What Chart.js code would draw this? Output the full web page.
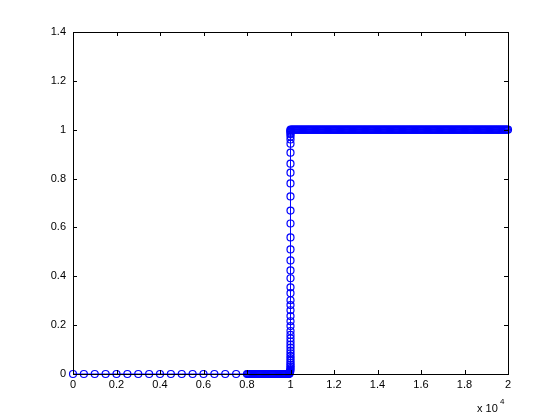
<!DOCTYPE html>
<html>
<head>
<meta charset="utf-8">
<script src="https://cdn.jsdelivr.net/npm/chart.js@4.4.1/dist/chart.umd.min.js"></script>
<style>
  body { margin: 0; background: #fff; }
  canvas { display: block; }
</style>
</head>
<body>
<canvas id="chart" width="560" height="420"></canvas>
<script>
// Chart values
const xTickLabels = ['0', '0.2', '0.4', '0.6', '0.8', '1', '1.2', '1.4', '1.6', '1.8', '2'];
const yTickLabels = ['0', '0.2', '0.4', '0.6', '0.8', '1', '1.2', '1.4'];

const lowLevel = 0;
const highLevel = 1;

// coarse points on the low plateau
const flatX = [0, 500, 1000, 1500, 2000, 2500, 3000, 3500, 4000, 4500, 5000, 5500, 6000, 6500, 7000, 7500];

// refined points before the jump
const lowX = [8000, 8050, 8100, 8150, 8200, 8250, 8300, 8350, 8400, 8450,
    8500, 8550, 8600, 8650, 8700, 8750, 8800, 8850, 8900, 8950,
    9000, 9050, 9100, 9150, 9200, 9250, 9300, 9350, 9400, 9450,
    9500, 9550, 9600, 9650, 9700, 9750, 9800, 9850, 9900];

// the jump itself
const riseX = [9930, 9950, 9965, 9975, 9985, 9990, 9995, 10000, 10000, 10000,
    10000, 10000, 10000, 10000, 10000, 10000, 10000, 10000, 10000, 10000,
    10000, 10000, 10000, 10000, 10000, 10000, 10000, 10000, 10000, 10000,
    10000, 10000, 10000, 10000, 10000, 10000, 10000, 10000, 10000, 10000,
    10000, 10000, 10000, 10000, 10000, 10000, 10000, 10000, 10000, 10000];
const riseY = [0.000, 0.002, 0.004, 0.006, 0.009, 0.013, 0.018, 0.024, 0.031, 0.038,
    0.046, 0.055, 0.064, 0.074, 0.085, 0.096, 0.108, 0.120, 0.133, 0.146,
    0.160, 0.176, 0.196, 0.216, 0.237, 0.261, 0.282, 0.302, 0.331, 0.355,
    0.392, 0.424, 0.465, 0.510, 0.559, 0.616, 0.669, 0.727, 0.780, 0.824,
    0.861, 0.906, 0.943, 0.960, 0.972, 0.981, 0.988, 0.993, 0.997, 1.000];

// refined points on the high plateau
const topX = [
    10050, 10100, 10150, 10200, 10250, 10300, 10350, 10400, 10450, 10500,
    10550, 10600, 10650, 10700, 10750, 10800, 10850, 10900, 10950, 11000,
    11050, 11100, 11150, 11200, 11250, 11300, 11350, 11400, 11450, 11500,
    11550, 11600, 11650, 11700, 11750, 11800, 11850, 11900, 11950, 12000,
    12050, 12100, 12150, 12200, 12250, 12300, 12350, 12400, 12450, 12500,
    12550, 12600, 12650, 12700, 12750, 12800, 12850, 12900, 12950, 13000,
    13050, 13100, 13150, 13200, 13250, 13300, 13350, 13400, 13450, 13500,
    13550, 13600, 13650, 13700, 13750, 13800, 13850, 13900, 13950, 14000,
    14050, 14100, 14150, 14200, 14250, 14300, 14350, 14400, 14450, 14500,
    14550, 14600, 14650, 14700, 14750, 14800, 14850, 14900, 14950, 15000,
    15050, 15100, 15150, 15200, 15250, 15300, 15350, 15400, 15450, 15500,
    15550, 15600, 15650, 15700, 15750, 15800, 15850, 15900, 15950, 16000,
    16050, 16100, 16150, 16200, 16250, 16300, 16350, 16400, 16450, 16500,
    16550, 16600, 16650, 16700, 16750, 16800, 16850, 16900, 16950, 17000,
    17050, 17100, 17150, 17200, 17250, 17300, 17350, 17400, 17450, 17500,
    17550, 17600, 17650, 17700, 17750, 17800, 17850, 17900, 17950, 18000,
    18050, 18100, 18150, 18200, 18250, 18300, 18350, 18400, 18450, 18500,
    18550, 18600, 18650, 18700, 18750, 18800, 18850, 18900, 18950, 19000,
    19050, 19100, 19150, 19200, 19250, 19300, 19350, 19400, 19450, 19500,
    19550, 19600, 19650, 19700, 19750, 19800, 19850, 19900, 19950, 20000];

const points = [
    ...flatX.map(x => ({ x, y: lowLevel })),
    ...lowX.map(x => ({ x, y: lowLevel })),
    ...riseX.map((x, i) => ({ x, y: riseY[i] })),
    ...topX.map(x => ({ x, y: highLevel }))
];

const FONT = { family: 'Liberation Sans, Arial, Helvetica, sans-serif', size: 11 };

// Matlab style box with inward ticks, drawn on top of the data
const boxAxes = {
    id: 'boxAxes',
    afterDatasetsDraw(chart) {
        const { ctx, chartArea: a, scales: { x, y } } = chart;
        ctx.save();
        ctx.strokeStyle = '#000';
        ctx.lineWidth = 1;
        ctx.strokeRect(a.left + 0.5, a.top + 0.5, a.right - a.left, a.bottom - a.top);

        const len = 4;
        ctx.beginPath();
        x.ticks.forEach(t => {
            const px = Math.round(x.getPixelForValue(t.value)) + 0.5;
            ctx.moveTo(px, a.bottom); ctx.lineTo(px, a.bottom - len);
            ctx.moveTo(px, a.top); ctx.lineTo(px, a.top + len);
        });
        y.ticks.forEach(t => {
            const py = Math.round(y.getPixelForValue(t.value)) + 0.5;
            ctx.moveTo(a.left, py); ctx.lineTo(a.left + len, py);
            ctx.moveTo(a.right, py); ctx.lineTo(a.right - len, py);
        });
        ctx.stroke();

        // exponent label
        ctx.fillStyle = '#000';
        ctx.textBaseline = 'middle';
        ctx.textAlign = 'left';
        ctx.font = `11px ${FONT.family}`;
        ctx.fillText('x 10', 477, 409);
        ctx.font = `8px ${FONT.family}`;
        ctx.fillText('4', 500, 402);
        ctx.restore();
    }
};

new Chart(document.getElementById('chart'), {
    type: 'scatter',
    data: {
        datasets: [{
            data: points,
            showLine: true,
            borderColor: '#0000ff',
            borderWidth: 1,
            pointStyle: 'circle',
            pointRadius: 3.5,
            pointBorderWidth: 1.2,
            pointBorderColor: '#0000ff',
            pointBackgroundColor: 'rgba(0,0,0,0)',
            clip: false
        }]
    },
    options: {
        responsive: false,
        animation: false,
        events: [],
        layout: { padding: { left: 0, top: 32, right: 52, bottom: 0 } },
        plugins: {
            legend: { display: false },
            tooltip: { enabled: false }
        },
        scales: {
            x: {
                type: 'linear',
                min: 0,
                max: 20000,
                grid: { display: false, drawTicks: false },
                border: { display: false },
                ticks: {
                    stepSize: 2000,
                    autoSkip: false,
                    maxRotation: 0,
                    padding: 4,
                    color: '#000',
                    font: FONT,
                    callback: (v, i) => xTickLabels[i]
                },
                afterFit: s => { s.height = 46; }
            },
            y: {
                min: 0,
                max: 1.4,
                grid: { display: false, drawTicks: false },
                border: { display: false },
                ticks: {
                    stepSize: 0.2,
                    autoSkip: false,
                    padding: 7,
                    color: '#000',
                    font: FONT,
                    callback: (v, i) => yTickLabels[i]
                },
                afterFit: s => { s.width = 73; }
            }
        }
    },
    plugins: [boxAxes]
});
</script>
</body>
</html>
